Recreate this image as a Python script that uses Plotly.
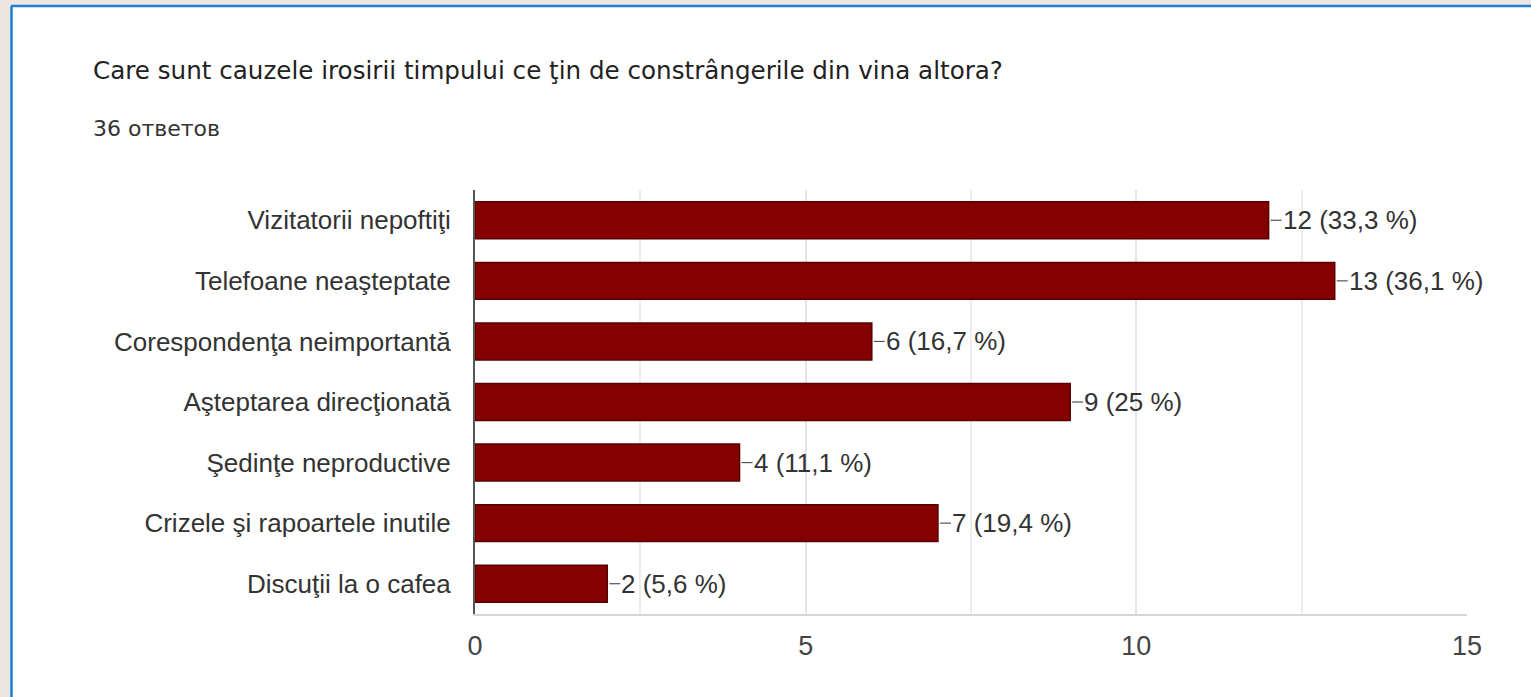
import plotly.graph_objects as go

# Survey answers: causes of time wasted due to constraints from others
categories = [
    "Vizitatorii nepoftiţi",
    "Telefoane neaşteptate",
    "Corespondenţa neimportantă",
    "Aşteptarea direcţionată",
    "Şedinţe neproductive",
    "Crizele şi rapoartele inutile",
    "Discuţii la o cafea",
]
counts = [12, 13, 6, 9, 4, 7, 2]
percents = ["33,3", "36,1", "16,7", "25", "11,1", "19,4", "5,6"]
total_answers = 36
x_ticks = [0, 5, 10, 15]

title_text = "Care sunt cauzele irosirii timpului ce ţin de constrângerile din vina altora?"
subtitle_text = f"{total_answers} ответов"

W, H = 1531, 697
L, R, T, B = 475, 64, 190, 83
PW, PH = W - L - R, H - T - B


def px_x(px):
    return (px - L) / PW


def px_y(py):
    return (H - B - py) / PH


fig = go.Figure()
fig.add_trace(go.Bar(
    x=counts,
    y=categories,
    orientation="h",
    marker=dict(color="#850000", line=dict(color="#5a0000", width=1.5)),
    width=0.61,
    hoverinfo="skip",
))

shapes = []
annotations = []
for cat, n, p in zip(categories, counts, percents):
    # short leader line from the bar end to its label
    shapes.append(dict(
        type="line", xref="x", yref="y", xsizemode="pixel",
        xanchor=n, x0=2, x1=13, y0=cat, y1=cat,
        line=dict(color="#555555", width=1.2),
    ))
    annotations.append(dict(
        x=n, y=cat, xref="x", yref="y", text=f"{n} ({p} %)",
        showarrow=False, xanchor="left", yanchor="middle", xshift=12,
        font=dict(family="Liberation Sans, Arial", size=26, color="#333333"),
    ))

# window frame: beige strips and blue border
shapes += [
    dict(type="rect", xref="paper", yref="paper", layer="above",
         x0=px_x(0), x1=px_x(11), y0=px_y(H), y1=px_y(0),
         fillcolor="#ebe6e0", line=dict(width=0)),
    dict(type="rect", xref="paper", yref="paper", layer="above",
         x0=px_x(0), x1=px_x(W), y0=px_y(5), y1=px_y(0),
         fillcolor="#ebe6e0", line=dict(width=0)),
    dict(type="line", xref="paper", yref="paper", layer="above",
         x0=px_x(11.5), x1=px_x(11.5), y0=px_y(H), y1=px_y(6),
         line=dict(color="#1d7fd6", width=2.5)),
    dict(type="line", xref="paper", yref="paper", layer="above",
         x0=px_x(11), x1=px_x(W), y0=px_y(6), y1=px_y(6),
         line=dict(color="#1d7fd6", width=2.5)),
]

annotations += [
    dict(x=px_x(91), y=px_y(70), xref="paper", yref="paper", text=title_text,
         showarrow=False, xanchor="left", yanchor="middle",
         font=dict(family="DejaVu Sans", size=24.6, color="#222222")),
    dict(x=px_x(91), y=px_y(128), xref="paper", yref="paper", text=subtitle_text,
         showarrow=False, xanchor="left", yanchor="middle",
         font=dict(family="DejaVu Sans", size=22, color="#333333")),
]

fig.update_layout(
    width=W, height=H,
    margin=dict(l=L, r=R, t=T, b=B, pad=0),
    paper_bgcolor="white",
    plot_bgcolor="white",
    showlegend=False,
    shapes=shapes,
    annotations=annotations,
    xaxis=dict(
        range=[0, 15], tickvals=x_ticks, ticktext=[str(v) for v in x_ticks],
        showgrid=True, gridcolor="#e4e4e4", gridwidth=1.5,
        minor=dict(dtick=2.5, showgrid=True, gridcolor="#ececec", gridwidth=1.5),
        zeroline=False,
        showline=True, linecolor="#d6d6d6", linewidth=1.5,
        ticks="", ticklabelstandoff=7,
        tickfont=dict(family="Liberation Sans, Arial", size=27, color="#444444"),
        fixedrange=True,
    ),
    yaxis=dict(
        categoryorder="array", categoryarray=categories, autorange="reversed",
        showgrid=False, zeroline=False,
        showline=True, linecolor="#555555", linewidth=2,
        ticks="", ticklabelstandoff=17,
        tickfont=dict(family="Liberation Sans, Arial", size=26, color="#333333"),
        fixedrange=True,
    ),
)

fig.write_html("out.html")
